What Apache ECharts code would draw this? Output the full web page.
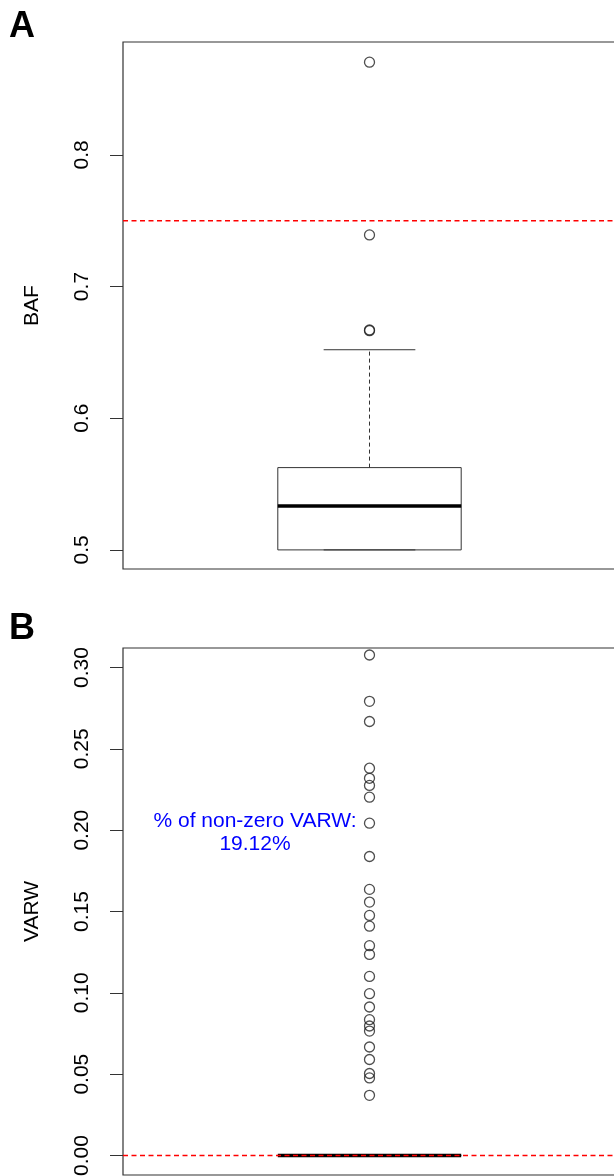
<!DOCTYPE html>
<html>
<head>
<meta charset="utf-8">
<script src="https://cdn.jsdelivr.net/npm/echarts@6/dist/echarts.min.js"></script>
<style>
  html, body { margin: 0; padding: 0; background: #fff; }
  #chart { width: 614px; height: 1176px; }
</style>
</head>
<body>
<div id="chart"></div>
<script>
// 数据：箱线图统计量 [下须, Q1, 中位数, Q3, 上须]
var bafStats = [0.5, 0.5, 0.5334, 0.5625, 0.652];
var bafOutliers = [0.8704, 0.7392, 0.667, 0.6665];
var bafCutoff = 0.75;
var bafTicks = [0.5, 0.6, 0.7, 0.8];

var varwStats = [0, 0, 0, 0, 0];
var varwOutliers = [0.3077, 0.2792, 0.2668, 0.2381, 0.2319, 0.2275, 0.2203, 0.2043,
  0.1838, 0.1636, 0.1558, 0.1476, 0.141, 0.129, 0.1236, 0.1101, 0.0995, 0.0913,
  0.0835, 0.0796, 0.0765, 0.0667, 0.059, 0.0504, 0.0477, 0.037];
var varwCutoff = 0;
var varwTicks = [0, 0.05, 0.1, 0.15, 0.2, 0.25, 0.3];
var varwNote = '% of non-zero VARW:\n19.12%';

var FONT = 'Liberation Sans';
var BOX_FRAC = 0.372, CAP_FRAC = 0.186;

// 箱体 + 须 + 中位线，最后画红色虚线阈值
function renderBox(params, api) {
  var s = [api.value(1), api.value(2), api.value(3), api.value(4), api.value(5)];
  var cut = api.value(6);
  var x = api.coord([api.value(0), s[2]])[0];
  var band = api.size([1, 0])[0];
  var hw = band * BOX_FRAC / 2, cw = band * CAP_FRAC / 2;
  var y = s.map(function (v) { return api.coord([0, v])[1]; });
  var yc = api.coord([0, cut])[1];
  var cs = params.coordSys;
  var edge = { stroke: '#333', lineWidth: 1 };
  function line(x1, y1, x2, y2, style) {
    return { type: 'line', shape: { x1: x1, y1: y1, x2: x2, y2: y2 }, style: style };
  }
  var dash = { stroke: '#333', lineWidth: 1, lineDash: [4, 3] };
  return {
    type: 'group',
    children: [
      line(x, y[3], x, y[4], dash),
      line(x, y[1], x, y[0], dash),
      line(x - cw, y[4], x + cw, y[4], edge),
      line(x - cw, y[0], x + cw, y[0], edge),
      { type: 'rect', shape: { x: x - hw, y: y[3], width: 2 * hw, height: y[1] - y[3] },
        style: { fill: 'none', stroke: '#333', lineWidth: 1 } },
      line(x - hw, y[2], x + hw, y[2], { stroke: '#000', lineWidth: 3.5 }),
      line(cs.x, yc, cs.x + cs.width, yc, { stroke: '#ff0000', lineWidth: 1.4, lineDash: [5, 3.5] })
    ]
  };
}

function yAxisFor(idx, name, min, max, ticks, digits) {
  return {
    type: 'value', gridIndex: idx, min: min, max: max,
    name: name, nameLocation: 'middle', nameGap: 80, nameRotate: 90,
    nameTextStyle: { fontFamily: FONT, fontSize: 21, color: '#000' },
    splitLine: { show: false },
    axisLine: { show: false },
    axisTick: { show: true, length: 13, customValues: ticks, lineStyle: { color: '#333', width: 1 } },
    axisLabel: {
      customValues: ticks, rotate: 90, margin: 30,
      fontFamily: FONT, fontSize: 21, color: '#000',
      formatter: function (v) { return Number(v).toFixed(digits); }
    }
  };
}

function xAxisFor(idx) {
  return {
    type: 'category', gridIndex: idx, data: ['1'],
    axisLine: { show: false, onZero: false }, axisTick: { show: false }, axisLabel: { show: false },
    splitLine: { show: false }
  };
}

function outlierSeries(idx, values) {
  return {
    type: 'scatter', xAxisIndex: idx, yAxisIndex: idx, symbol: 'circle', symbolSize: 10, z: 2,
    itemStyle: { color: 'rgba(0,0,0,0)', borderColor: '#222', borderWidth: 1.3 },
    data: values.map(function (v) { return [0, v]; })
  };
}

function boxSeries(idx, stats, cutoff) {
  return {
    type: 'custom', xAxisIndex: idx, yAxisIndex: idx, renderItem: renderBox, z: 3,
    encode: { x: 0, y: [1, 2, 3, 4, 5] }, data: [[0].concat(stats, [cutoff])]
  };
}

var chart = echarts.init(document.getElementById('chart'));
chart.setOption({
  animation: false,
  backgroundColor: '#fff',
  grid: [
    { left: 123, top: 42, width: 493, height: 527, show: true, borderColor: '#333', borderWidth: 1.2,
      outerBoundsMode: 'none', containLabel: false },
    { left: 123, top: 648, width: 493, height: 527, show: true, borderColor: '#333', borderWidth: 1.2,
      outerBoundsMode: 'none', containLabel: false }
  ],
  xAxis: [xAxisFor(0), xAxisFor(1)],
  yAxis: [
    yAxisFor(0, 'BAF', 0.4855, 0.8857, bafTicks, 1),
    yAxisFor(1, 'VARW', -0.012, 0.312, varwTicks, 2)
  ],
  graphic: [
    { type: 'text', left: 9, top: 9, style: { text: 'A', font: 'bold 36px ' + FONT, fill: '#000' } },
    { type: 'text', left: 9, top: 611, style: { text: 'B', font: 'bold 36px ' + FONT, fill: '#000' } },
    { type: 'text', x: 255, y: 810, style: { text: varwNote, font: '21px ' + FONT, fill: '#0000ff',
      align: 'center', verticalAlign: 'top', lineHeight: 23 } }
  ],
  series: [
    outlierSeries(0, bafOutliers),
    boxSeries(0, bafStats, bafCutoff),
    outlierSeries(1, varwOutliers),
    boxSeries(1, varwStats, varwCutoff)
  ]
});
</script>
</body>
</html>
